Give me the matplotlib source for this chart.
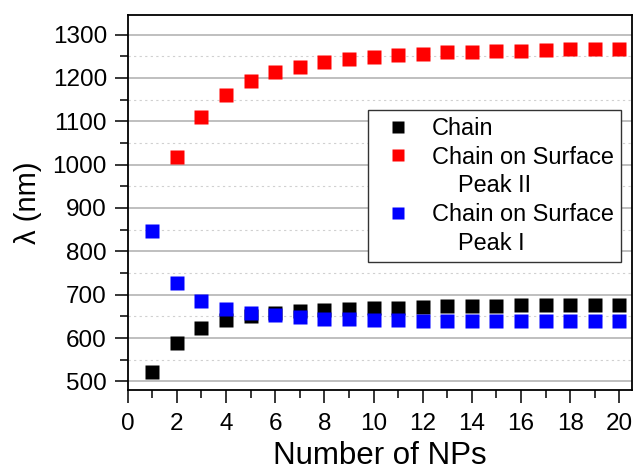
import matplotlib
matplotlib.use("Agg")
import matplotlib.pyplot as plt
from matplotlib.lines import Line2D
from matplotlib.ticker import MultipleLocator

plt.rcParams['font.family'] = ['Liberation Sans', 'DejaVu Sans']

# data
n_chain = list(range(1, 21))
chain = [522, 589, 623, 641, 651, 657, 662, 665, 668, 669, 670, 672,
         674, 674, 674, 675, 675, 675, 675, 675]

n_peak2 = list(range(2, 21))
peak2 = [1017, 1110, 1161, 1193, 1213, 1226, 1236, 1244, 1249, 1253,
         1256, 1259, 1260, 1262, 1263, 1265, 1266, 1266, 1267]

n_peak1 = list(range(1, 21))
peak1 = [846, 727, 686, 668, 658, 652, 648, 645, 644, 642, 641, 640,
         640, 639, 639, 639, 639, 639, 639, 639]

labels = ["Chain", "Chain on Surface", "    Peak II", "Chain on Surface", "    Peak I"]

fig = plt.figure(figsize=(6.34, 4.70), dpi=100)
ax = fig.add_axes([0.2014, 0.1702, 0.795, 0.7985])

ms = 9.4
ax.plot(n_chain, chain, 's', color='black', ms=ms, mec='none', zorder=3)
ax.plot(n_peak2, peak2, 's', color='red', ms=ms, mec='none', zorder=4)
ax.plot(n_peak1, peak1, 's', color='blue', ms=ms, mec='none', zorder=5)

ax.set_xlim(0, 20.5)
ax.set_ylim(480, 1346)
ax.xaxis.set_major_locator(MultipleLocator(2))
ax.xaxis.set_minor_locator(MultipleLocator(1))
ax.yaxis.set_major_locator(MultipleLocator(100))
ax.yaxis.set_minor_locator(MultipleLocator(50))

ax.grid(True, which='major', axis='y', color='#b4b4b4', lw=1.2, zorder=0)
ax.grid(True, which='minor', axis='y', color='#d0d0d0', lw=0.8, ls=(0, (2, 3)), zorder=0)

ax.tick_params(which='major', direction='out', length=9.4, width=1.1, labelsize=17.5)
ax.tick_params(which='minor', direction='out', length=5.5, width=1.1)
ax.tick_params(axis='x', which='major', pad=7)
ax.tick_params(axis='y', which='major', pad=5.5)
ax.tick_params(top=False, right=False)
for s in ax.spines.values():
    s.set_linewidth(1.3)

ax.set_xlabel("Number of NPs", fontsize=22.5, labelpad=4.5)
ax.set_ylabel("λ (nm)", fontsize=21, labelpad=8)

handles = [
    Line2D([], [], ls='none', marker='s', color='black', ms=9, mec='none'),
    Line2D([], [], ls='none', marker='s', color='red', ms=9, mec='none'),
    Line2D([], [], ls='none', marker='none'),
    Line2D([], [], ls='none', marker='s', color='blue', ms=9, mec='none'),
    Line2D([], [], ls='none', marker='none'),
]
leg = ax.legend(handles, labels, loc='upper right', bbox_to_anchor=(0.979, 0.746),
                borderaxespad=0, fontsize=16.9, fancybox=False, framealpha=1,
                edgecolor='#333333', handlelength=2.0, handletextpad=0.45,
                labelspacing=0.24, borderpad=0.3)
leg.get_frame().set_linewidth(1.0)
leg.set_zorder(10)

fig.savefig("out.png", dpi=100)
